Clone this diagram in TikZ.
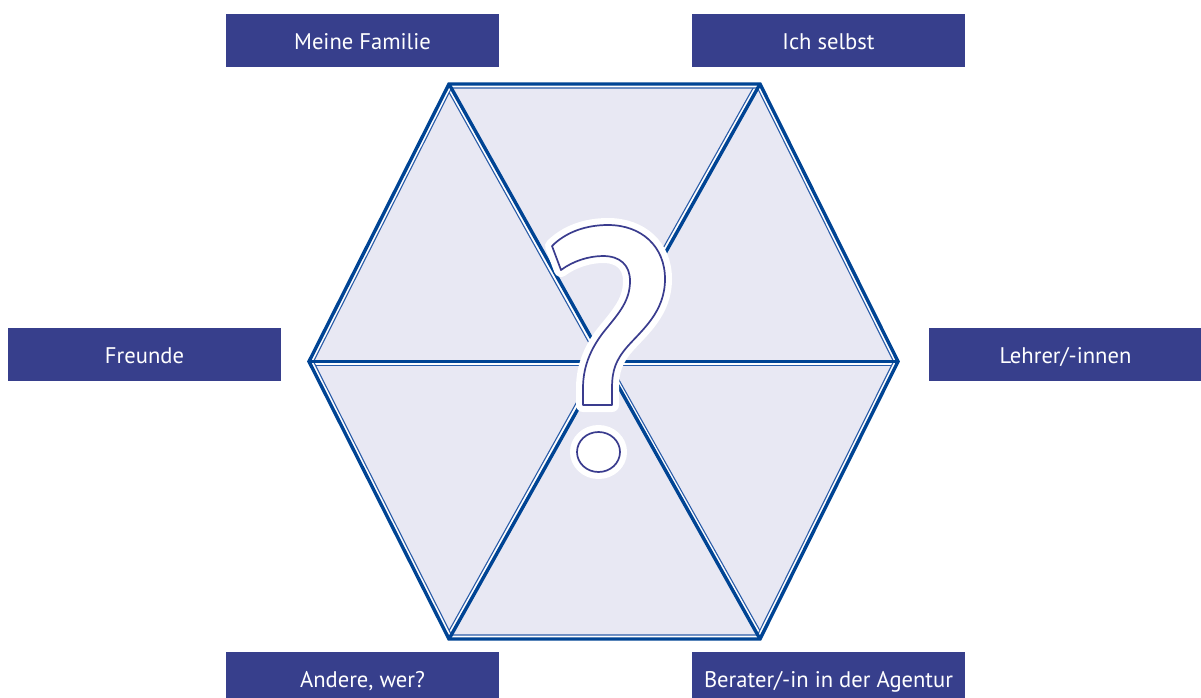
\documentclass[tikz,border=0pt]{standalone}
\usepackage{fontspec}
\setmainfont{PT Sans}
\definecolor{boxblue}{HTML}{373F8C}
\definecolor{hexblue}{HTML}{004494}
\definecolor{thinblue}{HTML}{2A5CA8}
\definecolor{hexfill}{HTML}{E8E8F3}
\definecolor{qblue}{HTML}{3A3C8E}
\tikzset{
  labelbox/.style={fill=boxblue, text=white, minimum width=273pt, minimum height=52.5pt,
    inner sep=0pt, font=\fontsize{22.6}{22.6}\selectfont, text height=17.5pt, text depth=0pt},
  thickedge/.style={draw=hexblue, line width=3.4pt, line join=miter},
  thinedge/.style={draw=thinblue, line width=1.1pt},
  gapedge/.style={draw=white, line width=4pt},
  halo/.style={draw=white, line width=14pt, line join=round},
  qline/.style={fill=white, draw=qblue, line width=1.7pt, line join=round},
}
\begin{document}
\begin{tikzpicture}[x=1pt,y=-1pt]
\useasboundingbox (0,0) rectangle (1201,697);
% hexagon corners
\coordinate (C) at (604,361.5);
\coordinate (TL) at (449,84);
\coordinate (TR) at (760,84);
\coordinate (R) at (898,361.5);
\coordinate (BR) at (760,639);
\coordinate (BL) at (449,639);
\coordinate (L) at (309,361.5);
% fill
\fill[hexfill] (TL) -- (TR) -- (R) -- (BR) -- (BL) -- (L) -- cycle;
% white gaps next to the thin lines
\begin{scope}
  \clip (TL) -- (TR) -- (R) -- (BR) -- (BL) -- (L) -- cycle;
  \draw[gapedge] (450.25,86) -- (758.75,86) -- (895.75,361.5) -- (758.75,637) -- (450.25,637) -- (311.25,361.5) -- cycle;
  \draw[gapedge] (602.25,362.5) -- (447.25,85);
  \draw[gapedge] (602.25,360.5) -- (758.25,83);
  \draw[gapedge] (604,363.5) -- (900,363.5);
  \draw[gapedge] (605.75,360.5) -- (761.75,638);
  \draw[gapedge] (602.25,360.5) -- (447.25,638);
  \draw[gapedge] (604,363.5) -- (305,363.5);
\end{scope}
% thin inset lines
\draw[thinedge] (451.5,88) -- (757.5,88) -- (893.5,361.5) -- (757.5,635) -- (451.5,635) -- (313.5,361.5) -- cycle;
\begin{scope}
  \clip (451.5,88) -- (757.5,88) -- (893.5,361.5) -- (757.5,635) -- (451.5,635) -- (313.5,361.5) -- cycle;
  \draw[thinedge] (600.5,363.5) -- (445.5,86);
  \draw[thinedge] (600.5,359.5) -- (756.5,82);
  \draw[thinedge] (604,365.5) -- (900,365.5);
  \draw[thinedge] (607.5,359.5) -- (763.5,637);
  \draw[thinedge] (600.5,359.5) -- (445.5,637);
  \draw[thinedge] (604,365.5) -- (305,365.5);
\end{scope}
% thick lines
\draw[thickedge] (TL) -- (TR) -- (R) -- (BR) -- (BL) -- (L) -- cycle;
\draw[thickedge] (TL) -- (BR);
\draw[thickedge] (TR) -- (BL);
\draw[thickedge] (L) -- (R);
% question mark halo
\draw[halo] (552,246) .. controls (566,232) and (586,225) .. (608,225) .. controls (641,225) and (665,246) .. (665,279) .. controls (665,312) and (642,330) .. (627,347) .. controls (616,360) and (612,370) .. (612,388) -- (612,405) -- (583,405) -- (583,388) .. controls (583,365) and (592,346) .. (606,329) .. controls (620,312) and (630,300) .. (630,281) .. controls (630,265) and (620,256) .. (603,256) .. controls (589,256) and (573,261) .. (561,270) -- cycle;
\draw[halo] (598.5,452) ellipse [x radius=21.5pt, y radius=20pt];
% question mark
\path[qline] (552,246) .. controls (566,232) and (586,225) .. (608,225) .. controls (641,225) and (665,246) .. (665,279) .. controls (665,312) and (642,330) .. (627,347) .. controls (616,360) and (612,370) .. (612,388) -- (612,405) -- (583,405) -- (583,388) .. controls (583,365) and (592,346) .. (606,329) .. controls (620,312) and (630,300) .. (630,281) .. controls (630,265) and (620,256) .. (603,256) .. controls (589,256) and (573,261) .. (561,270) -- cycle;
\path[qline] (598.5,452) ellipse [x radius=21.5pt, y radius=20pt];
% labels
\node[labelbox] (fam) at (362.5,40.3) {Meine Familie};
\node[labelbox] (ich) at (828.5,40.3) {Ich selbst};
\node[labelbox] (fre) at (144.5,354.5) {Freunde};
\node[labelbox] (leh) at (1065.5,354.5) {Lehrer/-innen};
\node[labelbox] (and) at (362.5,678.5) {Andere, wer?};
\node[labelbox] (ber) at (828.5,678.5) {Berater/-in in der Agentur};
\end{tikzpicture}
\end{document}
